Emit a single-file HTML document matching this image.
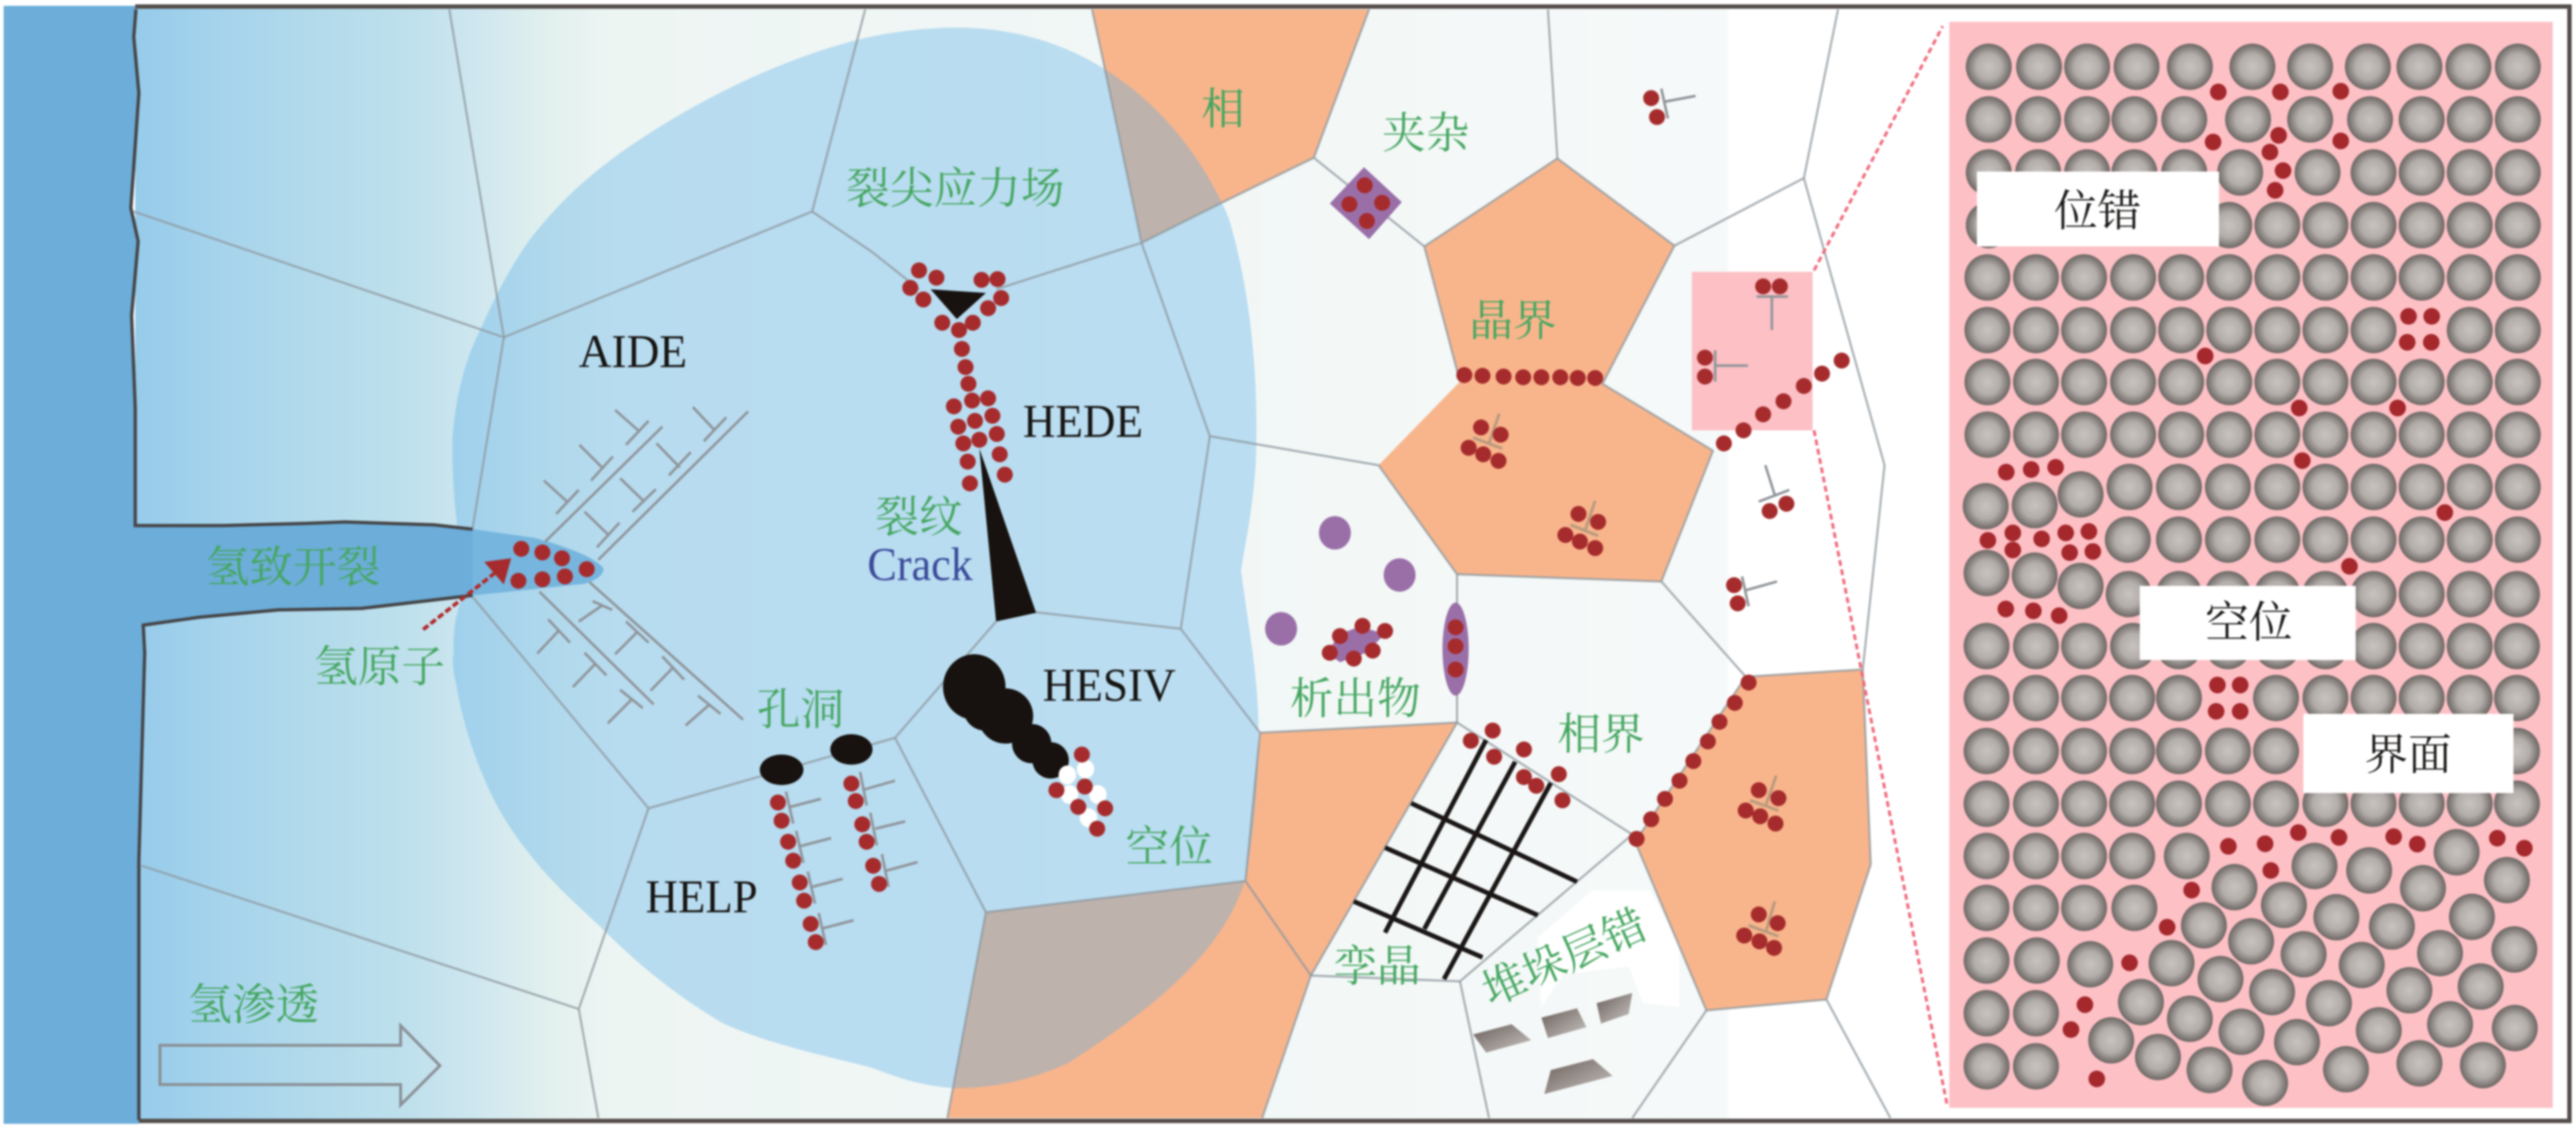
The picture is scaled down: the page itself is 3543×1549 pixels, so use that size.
<!DOCTYPE html>
<html><head><meta charset="utf-8"><style>
html,body{margin:0;padding:0;background:#fff}
svg{display:block;filter:blur(1.3px)}
.g{font-family:"Liberation Serif","Noto Serif CJK SC",serif;font-size:60px;fill:#45a660}
.k{font-family:"Liberation Serif","Noto Serif CJK SC",serif;font-size:60px;fill:#1c1a18}
.e{font-family:"Liberation Serif",serif;font-size:65px;fill:#161412}
.d line{stroke:#8f9499;stroke-width:3.5}
.o line{stroke:#b89a7e;stroke-width:4}
.r circle{fill:#a62b2c;r:11px}
</style></head><body>
<svg xmlns="http://www.w3.org/2000/svg" width="3543" height="1549" viewBox="0 0 3543 1549">
<defs>
<linearGradient id="bg" gradientUnits="userSpaceOnUse" x1="186" y1="0" x2="2380" y2="0">
<stop offset="0" stop-color="#96cbea"/><stop offset=".05" stop-color="#a5d3ec"/><stop offset=".11" stop-color="#b2daeb"/><stop offset=".17" stop-color="#bee0ec"/><stop offset=".21" stop-color="#cde6ef"/><stop offset=".26" stop-color="#e2f0ee"/><stop offset=".3" stop-color="#edf5f3"/><stop offset=".997" stop-color="#f6f9f9"/><stop offset="1" stop-color="#fff"/>
</linearGradient>
<radialGradient id="ag"><stop offset="0" stop-color="#c9c3c0"/><stop offset=".55" stop-color="#b3adaa"/><stop offset=".85" stop-color="#847e7b"/><stop offset="1" stop-color="#6c6764"/></radialGradient>
<linearGradient id="sf" x1="0" y1="0" x2="1" y2="1"><stop offset="0" stop-color="#6a5f5a"/><stop offset="1" stop-color="#c9c5c3"/></linearGradient>
<ellipse id="a" rx="52.5" ry="62.5" fill="url(#ag)"/>
<ellipse id="p" rx="19" ry="22.5" fill="#a4282c"/>
</defs>
<rect width="3543" height="1549" fill="#fff"/>
<rect x="186" y="10" width="2200" height="1532" fill="url(#bg)"/>

<!-- orange phases -->
<g fill="#f8b58c">
<polygon points="1502,13 1883,13 1807,217 1682,278 1570,334 1517,82"/>
<polygon points="1959,339 2142,218 2303,338 2204,528 2008,525"/>
<polygon points="2008,525 2204,528 2356,620 2285,800 2004,790 1896,640"/>
<polygon points="1356,1255 1713,1212 1733,1008 2004,994 1803,1342 1736,1538 1303,1538"/>
<polygon points="2401,931 2562,921 2573,1189 2512,1375 2347,1390 2249,1158"/>
</g>
<path d="M2115,1290 L2190,1225 L2270,1225 L2310,1300 L2310,1385 L2260,1380 L2240,1330 L2150,1340 L2120,1385Z" fill="#fff"/>

<!-- stress field -->
<path d="M622,610 C625,550 640,495 658,459 C680,410 700,370 727,332 C780,262 840,215 918,168 C1010,112 1110,70 1200,50 C1240,42 1280,38 1316,38 C1510,38 1635,170 1690,300 C1720,400 1732,520 1727,640 C1722,710 1712,750 1707,785 C1715,850 1731,930 1731,1005 C1731,1090 1722,1160 1713,1209 C1680,1320 1565,1400 1470,1462 C1420,1485 1370,1497 1316,1497 C1275,1495 1240,1485 1200,1469 C1125,1450 1055,1435 995,1408 C930,1370 875,1325 826,1275 C790,1242 755,1210 727,1173 C700,1140 680,1105 666,1071 C648,1030 635,985 628,944 C622,920 622,905 624,898 C622,860 630,830 643,810 C628,740 622,670 622,610Z" fill="rgb(83,172,232)" fill-opacity=".35"/>

<!-- left band + crack -->
<path d="M5,8 L187,8 L187,13 L184,51 L191,128 L180,286 L190,332 L181,434 L186,561 L186,723 L306,723 L421,720 L474,718 L597,722 L650,728 L735,740 Q815,762 830,782 Q830,795 804,803 L650,819 L566,829 L497,837 L383,839 L275,849 L197,860 L199,898 L191,1184 L191,1546 L5,1546Z" fill="#6cadd9"/>
<path d="M735,740 Q815,762 830,782 Q830,795 804,803 L690,815 L650,819 L650,728 Z" fill="#76b5de"/>

<!-- grain boundaries -->
<g fill="none" stroke="#8d979d" stroke-width="3" stroke-linejoin="round" stroke-opacity=".75">
<path d="M618,13 L693,464 L184,291"/>
<path d="M693,464 L1117,291 L1190,13"/>
<path d="M693,464 L650,727"/>
<path d="M1117,291 L1200,347 L1264,398"/>
<path d="M1370,398 L1570,334 L1517,82 L1502,13"/>
<path d="M1570,334 L1682,278 L1807,217 L1883,13"/>
<path d="M1807,217 L1959,339 L2142,218 L2303,338 L2204,528"/>
<path d="M2008,525 L1959,339"/>
<path d="M2142,218 L2129,13"/>
<path d="M2303,338 L2481,245 L2528,13"/>
<path d="M2481,245 L2592,640 L2562,921"/>
<path d="M1570,334 L1664,600 L1896,640 L2004,790 L2004,994"/>
<path d="M2204,528 L2356,620 L2285,800 L2004,790"/>
<path d="M2285,800 L2401,931 L2562,921 L2573,1189 L2512,1375 L2600,1538"/>
<path d="M2401,931 L2249,1158 L2347,1390 L2512,1375"/>
<path d="M2347,1390 L2245,1538"/>
<path d="M1664,600 L1624,865 L1423,842"/>
<path d="M1624,865 L1733,1008 L1713,1212 L1356,1255 L1231,1015 L1370,855"/>
<path d="M1733,1008 L2004,994 L2245,1148 L2008,1350 L1803,1342 L1713,1212"/>
<path d="M2008,1350 L2048,1538"/>
<path d="M1803,1342 L1736,1538"/>
<path d="M1356,1255 L1303,1538"/>
<path d="M650,821 L892,1112 L1231,1015"/>
<path d="M892,1112 L796,1388 L195,1191"/>
<path d="M796,1388 L823,1538"/>
<path d="M2004,994 L1803,1342"/>
</g>

<!-- frame -->
<path d="M186,9 L3534,9 L3534,1542 L191,1542" fill="none" stroke="#544d4b" stroke-width="6"/>
<path d="M187,13 L184,51 L191,128 L180,286 L190,332 L181,434 L186,561 L186,723 L306,723 L421,720 L474,718 L597,722 L650,728 M650,819 L566,829 L497,837 L383,839 L275,849 L197,860 L199,898 L191,1184 L191,1541" fill="none" stroke="#454547" stroke-width="4.5"/>

<!-- hollow arrow -->
<polygon points="220,1438 551,1438 551,1411 605,1466 551,1520 551,1492 220,1492" fill="none" stroke="#8a9096" stroke-width="4"/>

<!-- red dashed arrow -->
<line x1="582" y1="866" x2="681" y2="788" stroke="#b02a2b" stroke-width="5" stroke-dasharray="9 4"/>
<polygon points="703,768 666,773 693,804" fill="#a62b2c"/>

<!-- AIDE dislocations -->
<g class="d">
<line x1="750" y1="745" x2="911" y2="587"/><line x1="823" y1="770" x2="1029" y2="566"/>
<line x1="846" y1="564" x2="880" y2="594"/><line x1="861" y1="612" x2="892" y2="579"/>
<line x1="797" y1="612" x2="830" y2="645"/><line x1="813" y1="661" x2="843" y2="628"/>
<line x1="748" y1="661" x2="781" y2="691"/><line x1="765" y1="707" x2="796" y2="674"/>
<line x1="953" y1="560" x2="983" y2="592"/><line x1="968" y1="607" x2="999" y2="574"/>
<line x1="903" y1="610" x2="935" y2="643"/><line x1="920" y1="654" x2="950" y2="622"/>
<line x1="853" y1="658" x2="885" y2="689"/><line x1="870" y1="704" x2="902" y2="673"/>
<line x1="804" y1="704" x2="838" y2="737"/><line x1="821" y1="753" x2="852" y2="719"/>
<line x1="811" y1="801" x2="1022" y2="990"/><line x1="742" y1="814" x2="899" y2="969"/>
<line x1="815" y1="827" x2="842" y2="839"/><line x1="828" y1="833" x2="796" y2="855"/>
<line x1="861" y1="855" x2="892" y2="884"/><line x1="876" y1="870" x2="846" y2="900"/>
<line x1="911" y1="903" x2="941" y2="935"/><line x1="926" y1="918" x2="895" y2="950"/>
<line x1="960" y1="957" x2="991" y2="982"/><line x1="976" y1="969" x2="943" y2="998"/>
<line x1="754" y1="852" x2="784" y2="884"/><line x1="769" y1="867" x2="739" y2="899"/>
<line x1="804" y1="898" x2="834" y2="929"/><line x1="819" y1="913" x2="788" y2="945"/>
<line x1="853" y1="949" x2="884" y2="974"/><line x1="869" y1="962" x2="836" y2="995"/>
<!-- HELP col 1 -->
<line x1="1081" y1="1089" x2="1091" y2="1133"/><line x1="1087" y1="1110" x2="1129" y2="1099"/>
<line x1="1095" y1="1143" x2="1105" y2="1187"/><line x1="1101" y1="1164" x2="1143" y2="1153"/>
<line x1="1111" y1="1199" x2="1121" y2="1243"/><line x1="1117" y1="1220" x2="1159" y2="1209"/>
<line x1="1126" y1="1256" x2="1136" y2="1300"/><line x1="1132" y1="1277" x2="1174" y2="1266"/>
<!-- HELP col 2 -->
<line x1="1183" y1="1062" x2="1192" y2="1108"/><line x1="1189" y1="1086" x2="1231" y2="1074"/>
<line x1="1197" y1="1118" x2="1206" y2="1163"/><line x1="1204" y1="1140" x2="1245" y2="1130"/>
<line x1="1213" y1="1175" x2="1222" y2="1220"/><line x1="1218" y1="1198" x2="1262" y2="1186"/>
<!-- right dislocations -->
<line x1="2285" y1="122" x2="2294" y2="163"/><line x1="2289" y1="140" x2="2332" y2="132"/>
<line x1="2428" y1="640" x2="2441" y2="681"/><line x1="2419" y1="690" x2="2461" y2="674"/>
<line x1="2396" y1="793" x2="2405" y2="834"/><line x1="2401" y1="812" x2="2444" y2="800"/>
</g>

<!-- pink square -->
<rect x="2327" y="374" width="166" height="218" fill="#fcc0c5"/>
<g class="d">
<line x1="2416" y1="408" x2="2459" y2="408"/><line x1="2437" y1="408" x2="2437" y2="454"/>
<line x1="2359" y1="482" x2="2359" y2="525"/><line x1="2359" y1="503" x2="2404" y2="503"/>
</g>
<g class="o">
<line x1="2062" y1="569" x2="2048" y2="610"/><line x1="2026" y1="602" x2="2066" y2="617"/>
<line x1="2194" y1="689" x2="2180" y2="730"/><line x1="2160" y1="722" x2="2198" y2="737"/>
<line x1="2443" y1="1067" x2="2429" y2="1107"/><line x1="2407" y1="1101" x2="2446" y2="1115"/>
<line x1="2441" y1="1240" x2="2429" y2="1281"/><line x1="2405" y1="1273" x2="2446" y2="1288"/>
</g>

<!-- purple -->
<g fill="#9a6fa8">
<polygon points="1876,230 1928,278 1883,329 1829,280"/>
<ellipse cx="1836" cy="733" rx="22" ry="23"/>
<ellipse cx="1925" cy="791" rx="22" ry="23"/>
<ellipse cx="1762" cy="865" rx="22" ry="23"/>
<ellipse cx="2002" cy="893" rx="18" ry="64"/>
<polygon points="1870,862 1905,872 1879,898 1843,911 1825,898 1843,872"/>
</g>

<!-- black: wedge, triangle, voids -->
<g fill="#17120f">
<polygon points="1280,398 1356,403 1316,439"/>
<polygon points="1347,617 1370,855 1425,843"/>
<ellipse cx="1075" cy="1059" rx="30" ry="21"/>
<ellipse cx="1171" cy="1031" rx="29" ry="21"/>
<ellipse cx="1340" cy="945" rx="43" ry="45"/>
<circle cx="1383" cy="985" r="38"/>
<circle cx="1355" cy="975" r="30"/>
<circle cx="1419" cy="1023" r="27"/>
<circle cx="1445" cy="1046" r="25"/>
</g>
<g fill="#fff">
<ellipse cx="1493" cy="1058" rx="12" ry="13"/><ellipse cx="1468" cy="1066" rx="12" ry="13"/><ellipse cx="1471" cy="1093" rx="12" ry="13"/><ellipse cx="1510" cy="1093" rx="12" ry="13"/><ellipse cx="1497" cy="1125" rx="12" ry="13"/>
</g>

<!-- twins -->
<g stroke="#1a1716" stroke-width="6.5">
<line x1="2044" y1="1018" x2="1905" y2="1283"/><line x1="2084" y1="1048" x2="1959" y2="1278"/><line x1="2133" y1="1077" x2="1986" y2="1347"/>
<line x1="1941" y1="1105" x2="2169" y2="1213"/><line x1="1905" y1="1166" x2="2115" y2="1259"/><line x1="1862" y1="1240" x2="2039" y2="1317"/>
</g>

<!-- stacking faults -->
<g fill="url(#sf)">
<polygon points="2026,1423 2079,1409 2106,1431 2044,1448"/>
<polygon points="2120,1400 2169,1387 2182,1413 2129,1428"/>
<polygon points="2196,1380 2245,1366 2240,1395 2202,1408"/>
<polygon points="2133,1472 2191,1457 2218,1480 2124,1505"/>
</g>

<!-- red atoms -->
<g class="r">
<circle cx="717" cy="755"/><circle cx="746" cy="760"/><circle cx="773" cy="768"/><circle cx="807" cy="783"/><circle cx="777" cy="793"/><circle cx="746" cy="797"/><circle cx="713" cy="799"/>
<circle cx="1264" cy="372"/><circle cx="1288" cy="382"/><circle cx="1350" cy="385"/><circle cx="1372" cy="384"/><circle cx="1252" cy="396"/><circle cx="1270" cy="412"/><circle cx="1377" cy="410"/><circle cx="1359" cy="424"/><circle cx="1296" cy="444"/><circle cx="1338" cy="444"/><circle cx="1319" cy="454"/><circle cx="1323" cy="480"/><circle cx="1328" cy="505"/><circle cx="1332" cy="528"/><circle cx="1337" cy="551"/><circle cx="1359" cy="548"/><circle cx="1312" cy="559"/><circle cx="1365" cy="572"/><circle cx="1341" cy="579"/><circle cx="1318" cy="587"/><circle cx="1371" cy="597"/><circle cx="1347" cy="605"/><circle cx="1325" cy="610"/><circle cx="1375" cy="625"/><circle cx="1331" cy="635"/><circle cx="1382" cy="653"/><circle cx="1334" cy="665"/>
<circle cx="2014" cy="516"/><circle cx="2039" cy="517"/><circle cx="2068" cy="518"/><circle cx="2095" cy="519"/><circle cx="2120" cy="519"/><circle cx="2146" cy="519"/><circle cx="2170" cy="520"/><circle cx="2194" cy="520"/>
<circle cx="2371" cy="610"/><circle cx="2398" cy="592"/><circle cx="2425" cy="570"/><circle cx="2453" cy="552"/><circle cx="2481" cy="531"/><circle cx="2506" cy="514"/><circle cx="2533" cy="496"/>
<circle cx="2425" cy="394"/><circle cx="2448" cy="394"/><circle cx="2345" cy="492"/><circle cx="2345" cy="518"/>
<circle cx="2271" cy="135"/><circle cx="2279" cy="161"/><circle cx="2434" cy="703"/><circle cx="2457" cy="693"/><circle cx="2385" cy="805"/><circle cx="2390" cy="830"/>
<circle cx="2037" cy="588"/><circle cx="2064" cy="598"/><circle cx="2020" cy="616"/><circle cx="2040" cy="625"/><circle cx="2061" cy="634"/>
<circle cx="2171" cy="707"/><circle cx="2198" cy="718"/><circle cx="2153" cy="736"/><circle cx="2173" cy="745"/><circle cx="2194" cy="754"/>
<circle cx="2419" cy="1087"/><circle cx="2446" cy="1098"/><circle cx="2401" cy="1115"/><circle cx="2421" cy="1123"/><circle cx="2442" cy="1133"/>
<circle cx="2419" cy="1258"/><circle cx="2445" cy="1270"/><circle cx="2399" cy="1287"/><circle cx="2420" cy="1295"/><circle cx="2440" cy="1304"/>
<circle cx="1877" cy="255"/><circle cx="1901" cy="279"/><circle cx="1856" cy="281"/><circle cx="1880" cy="304"/>
<circle cx="2002" cy="863"/><circle cx="2002" cy="889"/><circle cx="2002" cy="921"/>
<circle cx="1874" cy="861"/><circle cx="1905" cy="868"/><circle cx="1843" cy="875"/><circle cx="1888" cy="895"/><circle cx="1829" cy="898"/><circle cx="1862" cy="906"/>
<circle cx="2053" cy="1005"/><circle cx="2023" cy="1019"/><circle cx="2055" cy="1041"/><circle cx="2096" cy="1031"/><circle cx="2144" cy="1065"/><circle cx="2096" cy="1069"/><circle cx="2113" cy="1081"/><circle cx="2149" cy="1101"/>
<circle cx="2405" cy="939"/><circle cx="2386" cy="967"/><circle cx="2365" cy="993"/><circle cx="2349" cy="1020"/><circle cx="2329" cy="1047"/><circle cx="2310" cy="1074"/><circle cx="2290" cy="1099"/><circle cx="2271" cy="1127"/><circle cx="2251" cy="1154"/>
<circle cx="1488" cy="1038"/><circle cx="1453" cy="1087"/><circle cx="1492" cy="1082"/><circle cx="1520" cy="1112"/><circle cx="1483" cy="1110"/><circle cx="1509" cy="1140"/>
<circle cx="1070" cy="1104"/><circle cx="1075" cy="1129"/><circle cx="1084" cy="1158"/><circle cx="1091" cy="1184"/><circle cx="1100" cy="1214"/><circle cx="1106" cy="1239"/><circle cx="1115" cy="1271"/><circle cx="1122" cy="1296"/>
<circle cx="1171" cy="1078"/><circle cx="1177" cy="1102"/><circle cx="1186" cy="1134"/><circle cx="1192" cy="1158"/><circle cx="1201" cy="1191"/><circle cx="1209" cy="1216"/>
</g>

<!-- dashed zoom lines -->
<g stroke="#f0697c" stroke-width="4" stroke-dasharray="8 5">
<line x1="2495" y1="372" x2="2672" y2="36"/>
<line x1="2495" y1="592" x2="2678" y2="1520"/>
</g>

<!-- detail panel -->
<rect x="2681" y="30" width="830" height="1494" fill="#fdc0c5"/>
<g transform="translate(2600,0) scale(.6014,.5102)">
<use href="#a" x="225" y="180"/><use href="#a" x="340" y="180"/><use href="#a" x="450" y="180"/><use href="#a" x="563" y="180"/><use href="#a" x="685" y="180"/><use href="#a" x="828" y="180"/><use href="#a" x="960" y="180"/><use href="#a" x="1092" y="180"/><use href="#a" x="1210" y="180"/><use href="#a" x="1322" y="180"/><use href="#a" x="1435" y="180"/>
<use href="#a" x="225" y="322"/><use href="#a" x="338" y="322"/><use href="#a" x="450" y="322"/><use href="#a" x="558" y="322"/><use href="#a" x="672" y="322"/><use href="#a" x="818" y="322"/><use href="#a" x="960" y="322"/><use href="#a" x="1097" y="322"/><use href="#a" x="1215" y="322"/><use href="#a" x="1325" y="322"/><use href="#a" x="1435" y="322"/>
<use href="#a" x="225" y="465"/><use href="#a" x="338" y="465"/><use href="#a" x="450" y="465"/><use href="#a" x="558" y="465"/><use href="#a" x="672" y="465"/><use href="#a" x="800" y="465"/><use href="#a" x="977" y="465"/><use href="#a" x="1105" y="465"/><use href="#a" x="1215" y="465"/><use href="#a" x="1325" y="465"/><use href="#a" x="1435" y="465"/>
<use href="#a" x="225" y="607"/><use href="#a" x="775" y="607"/><use href="#a" x="885" y="607"/><use href="#a" x="995" y="607"/><use href="#a" x="1105" y="607"/><use href="#a" x="1215" y="607"/><use href="#a" x="1325" y="607"/><use href="#a" x="1435" y="607"/>
<use href="#a" x="222" y="748"/><use href="#a" x="333" y="748"/><use href="#a" x="443" y="748"/><use href="#a" x="555" y="748"/><use href="#a" x="665" y="748"/><use href="#a" x="775" y="748"/><use href="#a" x="885" y="748"/><use href="#a" x="995" y="748"/><use href="#a" x="1105" y="748"/><use href="#a" x="1215" y="748"/><use href="#a" x="1325" y="748"/><use href="#a" x="1435" y="748"/>
<use href="#a" x="222" y="890"/><use href="#a" x="333" y="890"/><use href="#a" x="443" y="890"/><use href="#a" x="555" y="890"/><use href="#a" x="665" y="890"/><use href="#a" x="775" y="890"/><use href="#a" x="885" y="890"/><use href="#a" x="995" y="890"/><use href="#a" x="1105" y="890"/><use href="#a" x="1325" y="890"/><use href="#a" x="1435" y="890"/>
<use href="#a" x="222" y="1030"/><use href="#a" x="333" y="1030"/><use href="#a" x="443" y="1030"/><use href="#a" x="555" y="1030"/><use href="#a" x="665" y="1030"/><use href="#a" x="775" y="1030"/><use href="#a" x="885" y="1030"/><use href="#a" x="995" y="1030"/><use href="#a" x="1105" y="1030"/><use href="#a" x="1215" y="1030"/><use href="#a" x="1325" y="1030"/><use href="#a" x="1435" y="1030"/>
<use href="#a" x="222" y="1172"/><use href="#a" x="333" y="1172"/><use href="#a" x="443" y="1172"/><use href="#a" x="555" y="1172"/><use href="#a" x="665" y="1172"/><use href="#a" x="775" y="1172"/><use href="#a" x="885" y="1172"/><use href="#a" x="995" y="1172"/><use href="#a" x="1105" y="1172"/><use href="#a" x="1215" y="1172"/><use href="#a" x="1325" y="1172"/><use href="#a" x="1435" y="1172"/>
<use href="#a" x="218" y="1365"/><use href="#a" x="330" y="1362"/><use href="#a" x="435" y="1333"/><use href="#a" x="547" y="1313"/><use href="#a" x="660" y="1313"/><use href="#a" x="772" y="1313"/><use href="#a" x="885" y="1313"/><use href="#a" x="995" y="1313"/><use href="#a" x="1105" y="1313"/><use href="#a" x="1215" y="1313"/><use href="#a" x="1325" y="1313"/><use href="#a" x="1435" y="1313"/>
<use href="#a" x="543" y="1455"/><use href="#a" x="660" y="1455"/><use href="#a" x="772" y="1455"/><use href="#a" x="885" y="1455"/><use href="#a" x="995" y="1455"/><use href="#a" x="1105" y="1455"/><use href="#a" x="1215" y="1455"/><use href="#a" x="1325" y="1455"/><use href="#a" x="1435" y="1455"/>
<use href="#p" x="750" y="248"/><use href="#p" x="892" y="248"/><use href="#p" x="1030" y="246"/><use href="#p" x="738" y="383"/><use href="#p" x="888" y="365"/><use href="#p" x="1030" y="380"/><use href="#p" x="868" y="410"/><use href="#p" x="898" y="460"/><use href="#p" x="880" y="513"/><use href="#p" x="1185" y="853"/><use href="#p" x="1238" y="853"/><use href="#p" x="1182" y="923"/><use href="#p" x="1237" y="923"/><use href="#p" x="720" y="960"/><use href="#p" x="935" y="1100"/><use href="#p" x="1160" y="1100"/><use href="#p" x="942" y="1242"/><use href="#p" x="1268" y="1382"/><use href="#p" x="1050" y="1527"/><use href="#p" x="265" y="1273"/><use href="#p" x="322" y="1266"/><use href="#p" x="378" y="1260"/><use href="#p" x="223" y="1457"/><use href="#p" x="280" y="1437"/><use href="#p" x="280" y="1483"/><use href="#p" x="346" y="1453"/><use href="#p" x="401" y="1437"/><use href="#p" x="454" y="1433"/><use href="#p" x="410" y="1490"/><use href="#p" x="463" y="1487"/>
</g>
<g transform="translate(2600,750) scale(.6014,.5102)">
<use href="#a" x="220" y="75"/><use href="#a" x="330" y="82"/><use href="#a" x="435" y="110"/>
<use href="#a" x="545" y="132"/><use href="#a" x="660" y="132"/><use href="#a" x="772" y="132"/><use href="#a" x="885" y="132"/><use href="#a" x="995" y="132"/><use href="#a" x="1105" y="132"/><use href="#a" x="1215" y="132"/><use href="#a" x="1325" y="132"/><use href="#a" x="1433" y="132"/>
<use href="#a" x="220" y="272"/><use href="#a" x="333" y="272"/><use href="#a" x="443" y="272"/><use href="#a" x="555" y="272"/><use href="#a" x="660" y="272"/><use href="#a" x="772" y="272"/><use href="#a" x="885" y="272"/><use href="#a" x="995" y="272"/><use href="#a" x="1105" y="272"/><use href="#a" x="1215" y="272"/><use href="#a" x="1325" y="272"/><use href="#a" x="1433" y="272"/>
<use href="#a" x="220" y="412"/><use href="#a" x="333" y="412"/><use href="#a" x="443" y="412"/><use href="#a" x="553" y="412"/><use href="#a" x="660" y="412"/><use href="#a" x="882" y="412"/><use href="#a" x="995" y="412"/><use href="#a" x="1105" y="412"/><use href="#a" x="1215" y="412"/><use href="#a" x="1325" y="412"/><use href="#a" x="1433" y="412"/>
<use href="#a" x="220" y="555"/><use href="#a" x="333" y="555"/><use href="#a" x="443" y="555"/><use href="#a" x="553" y="555"/><use href="#a" x="660" y="555"/><use href="#a" x="772" y="555"/><use href="#a" x="882" y="555"/><use href="#a" x="1433" y="555"/>
<use href="#a" x="220" y="697"/><use href="#a" x="333" y="697"/><use href="#a" x="443" y="697"/><use href="#a" x="553" y="697"/><use href="#a" x="660" y="697"/><use href="#a" x="772" y="697"/><use href="#a" x="882" y="697"/><use href="#a" x="995" y="697"/><use href="#a" x="1105" y="697"/><use href="#a" x="1215" y="697"/><use href="#a" x="1325" y="697"/><use href="#a" x="1433" y="697"/>
<use href="#a" x="220" y="838"/><use href="#a" x="333" y="838"/><use href="#a" x="443" y="838"/><use href="#a" x="553" y="838"/><use href="#a" x="678" y="838"/>
<use href="#a" x="220" y="978"/><use href="#a" x="333" y="978"/><use href="#a" x="443" y="978"/><use href="#a" x="558" y="978"/>
<use href="#a" x="220" y="1120"/><use href="#a" x="335" y="1120"/><use href="#a" x="457" y="1130"/>
<use href="#a" x="220" y="1262"/><use href="#a" x="333" y="1262"/>
<use href="#a" x="220" y="1405"/><use href="#a" x="333" y="1405"/>
<use href="#a" x="970" y="865"/><use href="#a" x="1095" y="877"/><use href="#a" x="1295" y="828"/><use href="#a" x="1410" y="903"/><use href="#a" x="1218" y="925"/><use href="#a" x="787" y="922"/><use href="#a" x="900" y="970"/><use href="#a" x="1020" y="1003"/><use href="#a" x="1147" y="1028"/><use href="#a" x="1330" y="1002"/><use href="#a" x="717" y="1025"/><use href="#a" x="825" y="1068"/><use href="#a" x="945" y="1103"/><use href="#a" x="1078" y="1132"/><use href="#a" x="1257" y="1100"/><use href="#a" x="1427" y="1090"/><use href="#a" x="643" y="1127"/><use href="#a" x="755" y="1170"/><use href="#a" x="873" y="1205"/><use href="#a" x="1003" y="1235"/><use href="#a" x="1187" y="1200"/><use href="#a" x="1350" y="1190"/><use href="#a" x="573" y="1232"/><use href="#a" x="685" y="1277"/><use href="#a" x="803" y="1312"/><use href="#a" x="930" y="1340"/><use href="#a" x="1117" y="1308"/><use href="#a" x="1280" y="1292"/><use href="#a" x="1428" y="1302"/><use href="#a" x="505" y="1335"/><use href="#a" x="612" y="1380"/><use href="#a" x="730" y="1415"/><use href="#a" x="857" y="1450"/><use href="#a" x="1042" y="1413"/><use href="#a" x="1210" y="1397"/><use href="#a" x="1355" y="1402"/>
<use href="#p" x="264" y="172"/><use href="#p" x="327" y="177"/><use href="#p" x="386" y="190"/><use href="#p" x="748" y="377"/><use href="#p" x="800" y="377"/><use href="#p" x="745" y="448"/><use href="#p" x="800" y="448"/><use href="#p" x="773" y="812"/><use href="#p" x="857" y="805"/><use href="#p" x="933" y="775"/><use href="#p" x="1026" y="788"/><use href="#p" x="1151" y="786"/><use href="#p" x="1205" y="806"/><use href="#p" x="1388" y="790"/><use href="#p" x="1450" y="817"/><use href="#p" x="870" y="877"/><use href="#p" x="689" y="930"/><use href="#p" x="633" y="1030"/><use href="#p" x="547" y="1126"/><use href="#p" x="445" y="1239"/><use href="#p" x="413" y="1306"/><use href="#p" x="472" y="1439"/>
</g>
<g fill="#fff">
<rect x="2719" y="236" width="333" height="103"/>
<rect x="2943" y="806" width="297" height="102"/>
<rect x="3168" y="982" width="289" height="109"/>
</g>

<!-- labels -->
<text class="k" x="2825" y="311">位错</text>
<text class="k" x="3033" y="877">空位</text>
<text class="k" x="3252" y="1059">界面</text>
<text class="g" x="283" y="801">氢致开裂</text>
<text class="g" x="432" y="938">氢原子</text>
<text class="g" x="1041" y="997">孔洞</text>
<text class="g" x="259" y="1403">氢渗透</text>
<text class="g" x="1204" y="732">裂纹</text>
<text class="g" x="1164" y="280">裂尖应力场</text>
<text class="g" x="1652" y="171">相</text>
<text class="g" x="1901" y="204">夹杂</text>
<text class="g" x="2021" y="462">晶界</text>
<text class="g" x="1774" y="982">析出物</text>
<text class="g" x="2142" y="1031">相界</text>
<text class="g" x="1548" y="1186">空位</text>
<text class="g" x="1834" y="1350">孪晶</text>
<text class="g" transform="translate(2050,1385) rotate(-24)">堆垛层错</text>
<text class="e" x="796" y="505" textLength="149" lengthAdjust="spacingAndGlyphs">AIDE</text>
<text class="e" x="888" y="1255" textLength="154" lengthAdjust="spacingAndGlyphs">HELP</text>
<text class="e" x="1407" y="601" textLength="165" lengthAdjust="spacingAndGlyphs">HEDE</text>
<text class="e" x="1434" y="964" textLength="183" lengthAdjust="spacingAndGlyphs">HESIV</text>
<text class="e" x="1193" y="798" textLength="145" lengthAdjust="spacingAndGlyphs" style="fill:#3b4a9a">Crack</text>
</svg>
</body></html>
